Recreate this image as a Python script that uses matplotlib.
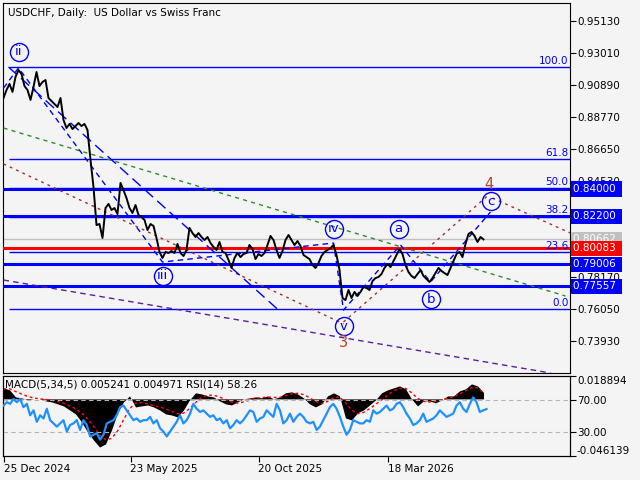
import numpy as np
import matplotlib
matplotlib.use("Agg")
import matplotlib.pyplot as plt

# --- price (close, every 3rd bar) ---
closes = [0.9003, 0.9056, 0.9096, 0.9043, 0.9142, 0.9188, 0.9162, 0.9082, 0.9056, 0.8990,
          0.9076, 0.9175, 0.9082, 0.9109, 0.9122, 0.9003, 0.8983, 0.8963, 0.8943, 0.9003,
          0.8857, 0.8804, 0.8831, 0.8797, 0.8817, 0.8837, 0.8817, 0.8831, 0.8791, 0.8592,
          0.8413, 0.8161, 0.8168, 0.8075, 0.8274, 0.8301, 0.8261, 0.8274, 0.8234, 0.8440,
          0.8393, 0.8340, 0.8274, 0.8241, 0.8294, 0.8228, 0.8214, 0.8195, 0.8128, 0.8168,
          0.8155, 0.8075, 0.7983, 0.7943, 0.7983, 0.7976, 0.7989, 0.7976, 0.8036, 0.7976,
          0.7956, 0.7996, 0.8142, 0.8108, 0.8082, 0.8108, 0.8082, 0.8062, 0.8082, 0.8042,
          0.8016, 0.7996, 0.8049, 0.7983, 0.7976, 0.7930, 0.7877, 0.7943, 0.7976, 0.7949,
          0.7969, 0.7976, 0.8029, 0.8002, 0.7936, 0.7969, 0.7956, 0.7976, 0.8029, 0.8089,
          0.8062, 0.7996, 0.7943, 0.7989, 0.8062, 0.8095, 0.8062, 0.8029, 0.8055, 0.8022,
          0.7963, 0.7949, 0.7936, 0.7896, 0.7877, 0.7910, 0.7956, 0.7983, 0.7996, 0.8009,
          0.8029, 0.7963, 0.7863, 0.7678, 0.7664, 0.7731, 0.7678, 0.7718, 0.7691, 0.7718,
          0.7751, 0.7744, 0.7731, 0.7790, 0.7810, 0.7817, 0.7837, 0.7877, 0.7903, 0.7883,
          0.7923, 0.7963, 0.8002, 0.7969, 0.7896, 0.7850, 0.7824, 0.7810, 0.7837, 0.7863,
          0.7824, 0.7804, 0.7784, 0.7810, 0.7843, 0.7877, 0.7857, 0.7843, 0.7830, 0.7877,
          0.7923, 0.7969, 0.7983, 0.7949, 0.8036, 0.8102, 0.8115, 0.8089, 0.8049, 0.8082,
          0.8066]

# --- indicators ---
macd = [0.0089, 0.0073, 0.0016, 0.0008, -0.0008, 0.0000, 0.0000, -0.0016, -0.0024, -0.0040,
        -0.0057, -0.0089, -0.0121, -0.0186, -0.0267, -0.0332, -0.0389, -0.0364, -0.0251, -0.0113,
        -0.0024, 0.0024, -0.0065, -0.0057, -0.0049, -0.0065, -0.0089, -0.0121, -0.0130, -0.0146,
        -0.0089, -0.0008, 0.0049, 0.0040, 0.0024, 0.0016, -0.0016, -0.0040, -0.0049, -0.0024,
        0.0000, 0.0008, 0.0016, 0.0008, 0.0024, 0.0000, 0.0016, 0.0049, 0.0057, 0.0040,
        0.0008, -0.0040, -0.0065, -0.0040, 0.0024, 0.0049, 0.0024, -0.0154, -0.0170, -0.0113,
        -0.0089, -0.0049, -0.0008, 0.0049, 0.0073, 0.0089, 0.0105, 0.0081, 0.0000, -0.0057,
        -0.0016, -0.0016, -0.0032, -0.0008, 0.0024, 0.0024, 0.0065, 0.0081, 0.0121, 0.0105,
        0.0052]
signal = [0.0080, 0.0082, 0.0060, 0.0040, 0.0020, 0.0008, 0.0000, -0.0004, -0.0010, -0.0020,
          -0.0035, -0.0055, -0.0080, -0.0115, -0.0160, -0.0220, -0.0290, -0.0330, -0.0320, -0.0260,
          -0.0170, -0.0080, -0.0035, -0.0030, -0.0040, -0.0055, -0.0065, -0.0080, -0.0100, -0.0120,
          -0.0115, -0.0080, -0.0030, 0.0010, 0.0030, 0.0030, 0.0015, -0.0005, -0.0025, -0.0035,
          -0.0025, -0.0010, 0.0005, 0.0010, 0.0015, 0.0012, 0.0012, 0.0025, 0.0040, 0.0045,
          0.0035, 0.0010, -0.0020, -0.0040, -0.0020, 0.0010, 0.0015, -0.0030, -0.0090, -0.0120,
          -0.0110, -0.0080, -0.0045, -0.0010, 0.0030, 0.0065, 0.0085, 0.0085, 0.0050, 0.0005,
          -0.0020, -0.0025, -0.0020, -0.0010, 0.0005, 0.0015, 0.0040, 0.0065, 0.0090, 0.0090,
          0.0050]
rsi = [62.7, 66.8, 64.8, 70.8, 66.8, 70.8, 60.7, 64.8, 50.6, 56.7, 42.5, 50.6, 46.6, 58.7, 44.5,
       40.5, 36.5, 40.5, 44.5, 30.4, 38.5, 40.5, 44.5, 32.4, 44.5, 38.5, 24.3, 26.4, 28.4, 20.3,
       26.4, 40.5, 42.5, 44.5, 50.6, 60.7, 62.7, 56.7, 50.6, 44.5, 46.6, 42.5, 44.5, 44.5, 48.6,
       40.5, 44.5, 34.4, 30.4, 24.3, 30.4, 36.5, 42.5, 50.6, 40.5, 44.5, 52.6, 64.8, 58.7, 54.7,
       56.7, 52.6, 48.6, 50.6, 44.5, 46.6, 40.5, 44.5, 34.4, 38.5, 44.5, 40.5, 44.5, 50.6, 56.7,
       54.7, 42.5, 46.6, 48.6, 56.7, 52.6, 48.6, 64.8, 56.7, 40.5, 44.5, 52.6, 42.5, 48.6, 52.6,
       48.6, 42.5, 40.5, 42.5, 32.4, 36.5,
       44.5, 52.6, 60.7, 64.8, 58.7, 48.6, 36.5, 26.4, 32.4, 44.5, 42.5, 40.5, 40.5, 44.5, 42.5,
       56.7, 52.6, 54.7, 58.7, 62.7, 56.7, 58.7, 64.8, 66.8, 60.7, 52.6, 46.6, 38.5, 40.5, 44.5,
       52.6, 42.5, 44.5, 46.6, 50.6, 56.7, 52.6, 48.6, 50.6, 52.6, 62.7, 66.8, 58.7, 54.7, 64.8,
       72.8, 66.8, 54.7, 56.7, 58.3]

# --- axis labels ---
price_ticks = [0.73930, 0.76050, 0.78170, 0.80290, 0.82410, 0.84530,
               0.86650, 0.88770, 0.90890, 0.93010, 0.95130]
hidden_ticks = [0.80290, 0.82410]  # covered by the level boxes
date_bars = [0, 127, 255, 384]
date_labels = ["25 Dec 2024", "23 May 2025", "20 Oct 2025", "18 Mar 2026"]

# --- levels ---
fib_low, fib_high = 0.76050, 0.92080
fib_ratios = [0.0, 23.6, 38.2, 50.0, 61.8, 100.0]
sr_levels = [0.84000, 0.82200, 0.79006, 0.77557]
pivot_level = 0.80083
last_price = 0.80662

# --- trend lines (bar, price) ---
green_bars, green_prices = [0, 562], [0.8804, 0.7691]
purple_bars, purple_prices = [0, 547], [0.7797, 0.7181]
brown1_bars, brown1_prices = [0, 340], [0.8566, 0.7506]
brown2_bars, brown2_prices = [340, 485], [0.7519, 0.8360]
brown3_bars, brown3_prices = [489, 567], [0.8340, 0.8108]
chan_bars, chan_prices = [5, 275], [0.9208, 0.7598]
wave_bars = [0, 15, 159, 330, 340, 397, 427, 487]
wave_prices = [0.9069, 0.9202, 0.7916, 0.8042, 0.7598, 0.8029, 0.7784, 0.8248]

# --- wave labels ---
circ_labels = ["ii", "iii", "iv", "v", "a", "b", "c"]
circ_bars = [15, 159, 330, 340, 395, 427, 487]
circ_prices = [0.9308, 0.7824, 0.8135, 0.7492, 0.8135, 0.7671, 0.8320]
big_labels = ["3", "4"]
big_bars = [340, 485]
big_prices = [0.7380, 0.8433]

bg = "#f4f4f4"
fs = 7.5
fig = plt.figure(figsize=(6.4, 4.8), dpi=100, facecolor=bg)
ax = fig.add_axes([3/640, 1 - 373/480, 567/640, 370/480], facecolor=bg)
axi = fig.add_axes([3/640, 1 - 456/480, 567/640, 80.5/480], facecolor=bg)

# main chart
x_close = np.arange(len(closes)) * 3
ax.plot(x_close, closes, color="black", lw=1.4, zorder=5)

for r in fib_ratios:
    lvl = fib_low + (fib_high - fib_low) * r / 100
    ax.hlines(lvl, 5, 567, color="#0000ff", lw=1.0, zorder=2)
    ax.text(565, lvl + 0.0008, f"{r:.1f}", color="#0000ff", fontsize=fs,
            ha="right", va="bottom", zorder=6)
ax.axhline(last_price, color="#c0c0c0", lw=1.0, zorder=2)
for lvl in sr_levels:
    ax.axhline(lvl, color="#0000ff", lw=2.2, zorder=3)
ax.axhline(pivot_level, color="#ff0000", lw=2.2, zorder=3)

ax.plot(green_bars, green_prices, color="#2e8b2e", lw=1, ls=(0, (3, 3)), zorder=4)
ax.plot(purple_bars, purple_prices, color="#5a1ea0", lw=1, ls=(0, (4, 3)), zorder=4)
for bx, py in [(brown1_bars, brown1_prices), (brown2_bars, brown2_prices), (brown3_bars, brown3_prices)]:
    ax.plot(bx, py, color="#a0302a", lw=1, ls=(0, (2, 3)), zorder=4)
ax.plot(chan_bars, chan_prices, color="#0000ff", lw=1, ls=(0, (8, 4)), zorder=4)
ax.plot(wave_bars, wave_prices, color="#0000ff", lw=1, ls=(0, (4, 3)), zorder=4)

for lab, bx, py in zip(circ_labels, circ_bars, circ_prices):
    ax.plot(bx, py, "o", ms=13, mfc="none", mec="#0000ff", mew=1, zorder=7)
    ax.text(bx, py, lab, color="#0000ff", fontsize=9.5, ha="center", va="center", zorder=7)
for lab, bx, py in zip(big_labels, big_bars, big_prices):
    ax.text(bx, py, lab, color="#b5452b", fontsize=10.5, ha="center", va="center", zorder=7)

ax.set_xlim(-0.5, 566.5)
ax.set_ylim(0.71809, 0.96323)
ax.set_xticks([])
ax.yaxis.tick_right()
ax.set_yticks(price_ticks)
ax.set_yticklabels(["" if t in hidden_ticks else f"{t:.5f}" for t in price_ticks])
ax.tick_params(axis="y", length=4, pad=1, labelsize=fs)

boxes = [(0.84000, "#0000ff"), (0.82200, "#0000ff"), (last_price, "#c0c0c0"),
         (pivot_level, "#ff0000"), (0.79006, "#0000ff"), (0.77557, "#0000ff")]
for lvl, col in boxes:
    ax.text(1.006, lvl, f"{lvl:.5f} ", transform=ax.get_yaxis_transform(), color="white",
            fontsize=fs, ha="left", va="center", clip_on=False, zorder=10,
            bbox=dict(boxstyle="square,pad=0.25", fc=col, ec="none"))

fig.text(8/640, 1 - 13/480, "USDCHF, Daily:  US Dollar vs Swiss Franc", fontsize=fs,
         ha="left", va="center")

# indicator panel
axr = axi.twinx()
x_macd = np.arange(len(macd)) * 6
axi.fill_between(x_macd, 0, macd, color="black", lw=0, zorder=2)
axi.plot(x_macd, signal, color="#ff0000", lw=1, ls=(0, (2, 2)), zorder=3)
axi.set_ylim(-0.046139, 0.018894)
axi.set_xlim(-0.5, 566.5)
axi.yaxis.tick_right()
axi.set_yticks([0.018894, -0.046139])
axi.set_yticklabels(["0.018894", "-0.046139"])
axi.tick_params(axis="y", length=4, pad=1, labelsize=fs)
axi.get_yticklabels()[0].set_va("top")
axi.get_yticklabels()[1].set_va("bottom")
axi.set_xticks(date_bars)
axi.set_xticklabels(date_labels, ha="left")
axi.tick_params(axis="x", length=4, pad=2, labelsize=fs)

x_rsi = np.linspace(0, 483, len(rsi))
axr.axhline(70, color="#b4b4b4", lw=0.8, ls=(0, (4, 3)), zorder=1)
axr.axhline(30, color="#b4b4b4", lw=0.8, ls=(0, (4, 3)), zorder=1)
axr.plot(x_rsi, rsi, color="#1e90ff", lw=1.6, zorder=4)
axr.set_ylim(0, 100)
axr.set_yticks([70, 30])
axr.set_yticklabels(["70.00", "30.00"])
axr.tick_params(axis="y", length=4, pad=1, labelsize=fs)
axr.text(0.004, 0.89, "MACD(5,34,5) 0.005241 0.004971 RSI(14) 58.26", transform=axi.transAxes,
         fontsize=fs, ha="left", va="center", zorder=6)

fig.savefig("out.png", dpi=100, facecolor=bg)
